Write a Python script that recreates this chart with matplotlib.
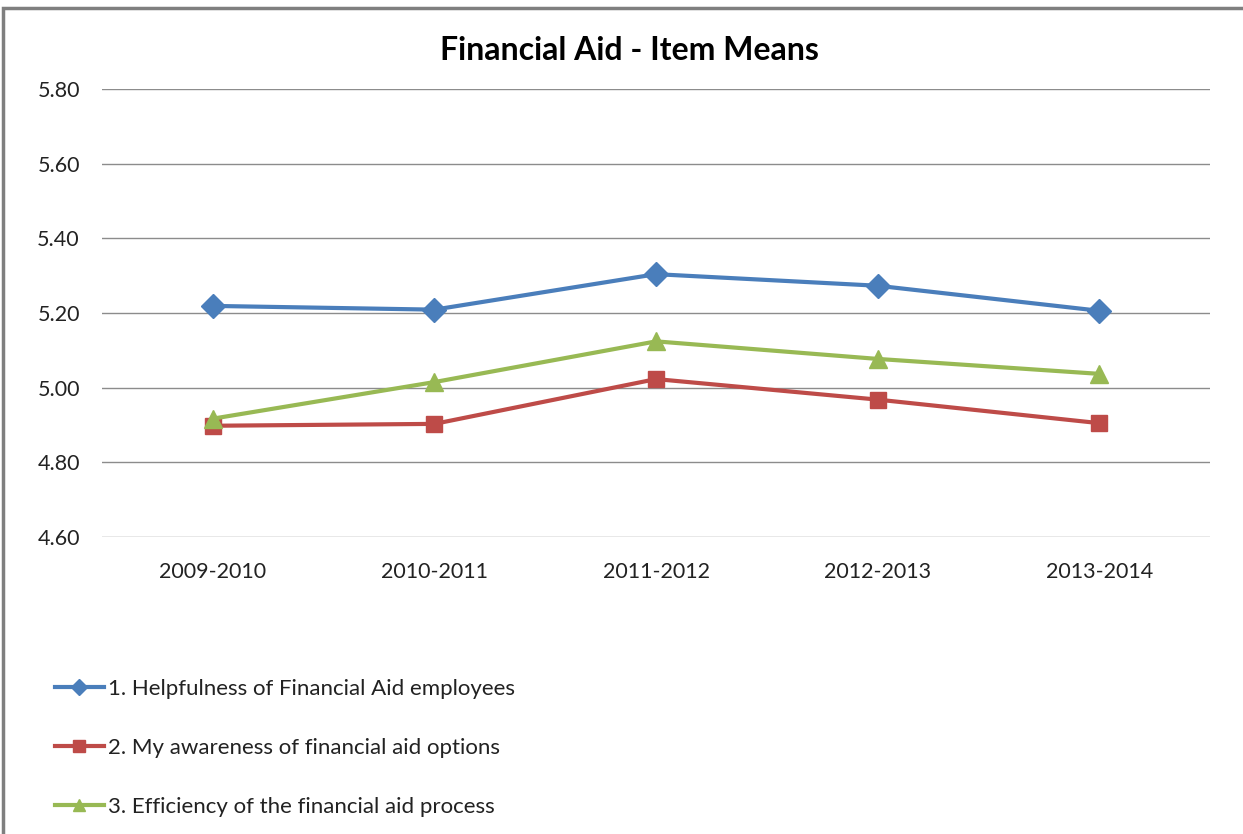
import matplotlib.pyplot as plt
from matplotlib.patches import Rectangle

years = ["2009-2010", "2010-2011", "2011-2012", "2012-2013", "2013-2014"]
helpfulness = [5.219, 5.209, 5.304, 5.273, 5.206]
awareness = [4.898, 4.903, 5.023, 4.968, 4.905]
efficiency = [4.917, 5.015, 5.124, 5.077, 5.037]

series_names = [
    "1. Helpfulness of Financial Aid employees",
    "2. My awareness of financial aid options",
    "3. Efficiency of the financial aid process",
]
y_ticks = [4.60, 4.80, 5.00, 5.20, 5.40, 5.60, 5.80]

plt.rcParams["font.family"] = ["Lato", "DejaVu Sans"]

fig = plt.figure(figsize=(12.43, 8.34), dpi=100)
ax = fig.add_axes([0.0821, 0.3561, 0.8914, 0.5372])

x = list(range(len(years)))
styles = [
    (helpfulness, "#4A7EBB", "D", 12),
    (awareness, "#BE4B48", "s", 12),
    (efficiency, "#98B954", "^", 13),
]
handles = []
for (vals, color, marker, ms), name in zip(styles, series_names):
    h, = ax.plot(x, vals, color=color, lw=3, marker=marker, ms=ms,
                 mec=color, mfc=color, label=name, zorder=3)
    handles.append(h)

ax.set_xlim(-0.5, len(years) - 0.5)
ax.set_ylim(4.60, 5.80)
ax.set_yticks(y_ticks)
ax.set_yticklabels([f"{v:.2f}" for v in y_ticks])
ax.set_xticks(x)
ax.set_xticklabels(years)
ax.tick_params(length=0, labelsize=15.5, colors="#222222")
ax.tick_params(axis="x", pad=18)
ax.tick_params(axis="y", pad=16)
ax.grid(axis="y", color="#8c8c8c", lw=1)
ax.set_axisbelow(True)
for s in ax.spines.values():
    s.set_visible(False)

fig.text(0.5065, 0.94, "Financial Aid - Item Means", ha="center", va="center",
         fontsize=23, fontweight="bold")

fig.legend(handles=handles, loc="upper left", bbox_to_anchor=(0.044, 0.186),
           frameon=False, fontsize=16, handlelength=2.2, handletextpad=0.2,
           labelspacing=1.75, markerscale=0.7, labelcolor="#222222",
           borderpad=0, borderaxespad=0)

# outer chart frame
fig.add_artist(Rectangle((3 / 1243, -0.1), 1.2, 1.1 - 8 / 834,
                         transform=fig.transFigure, fill=False,
                         edgecolor="#7f7f7f", lw=2.5))

fig.savefig("out.png", dpi=100)
